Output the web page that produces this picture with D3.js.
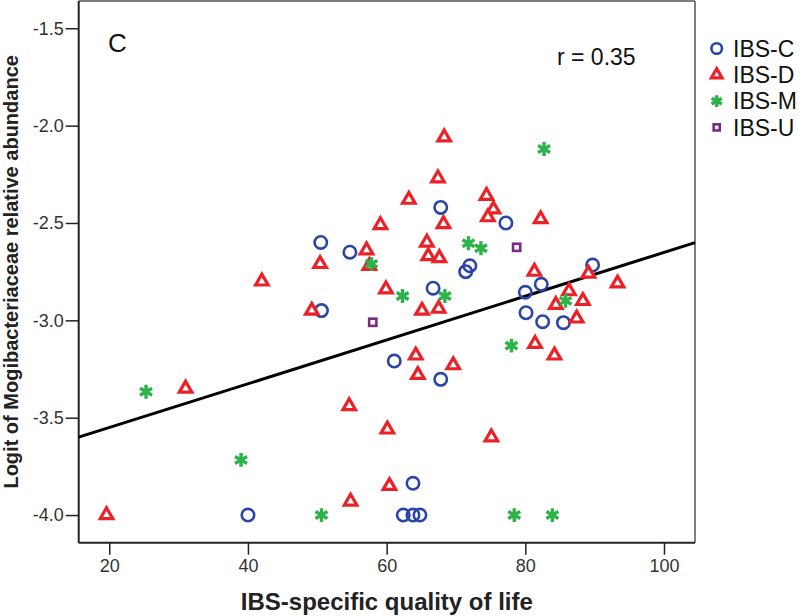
<!DOCTYPE html>
<html>
<head>
<meta charset="utf-8">
<script src="https://cdn.jsdelivr.net/npm/d3@7"></script>
<style>
  html, body { margin: 0; padding: 0; background: #fff; }
  svg { display: block; font-family: "Liberation Sans", Arial, sans-serif; }
</style>
</head>
<body>
<svg id="chart" width="800" height="616"></svg>
<script>
// ---- data ----
const ibsC = [
  [50.5, -2.60], [54.7, -2.65], [50.6, -2.95], [67.8, -2.42], [77.2, -2.50],
  [71.4, -2.75], [72.0, -2.72], [66.7, -2.835], [80.0, -2.856], [82.3, -2.815],
  [89.7, -2.716], [80.1, -2.961], [82.5, -3.007], [85.5, -3.012], [67.8, -3.303],
  [61.1, -3.209], [63.8, -3.837], [62.4, -4.0], [63.8, -4.0], [64.8, -4.0], [40.0, -4.0]
];
const ibsD = [
  [63.2, -2.38], [59.1, -2.51], [57.1, -2.64], [50.4, -2.71], [57.5, -2.72],
  [65.8, -2.60], [66.0, -2.67], [67.6, -2.68], [42.0, -2.80], [68.3, -2.06],
  [67.4, -2.27], [68.2, -2.505], [74.4, -2.36], [75.4, -2.43], [74.6, -2.47],
  [82.2, -2.48], [81.3, -2.75], [89.1, -2.76], [93.3, -2.81], [86.3, -2.85],
  [84.4, -2.92], [88.3, -2.90], [87.4, -2.99], [81.4, -3.12], [84.2, -3.18],
  [69.6, -3.23], [67.5, -2.94], [65.1, -2.95], [49.2, -2.95], [59.9, -2.84],
  [64.2, -3.18], [64.5, -3.28], [54.6, -3.44], [31.0, -3.35], [19.6, -4.0],
  [54.8, -3.93], [60.1, -3.56], [75.1, -3.60], [60.4, -3.85]
];
const ibsM = [
  [57.8, -2.71], [62.3, -2.875], [82.7, -2.12], [71.8, -2.604], [73.6, -2.63],
  [68.4, -2.875], [85.8, -2.90], [78.0, -3.13], [25.3, -3.367], [39.0, -3.717],
  [50.6, -4.0], [78.4, -4.0], [83.9, -4.0]
];
const ibsU = [[78.75, -2.625], [58.0, -3.01]];
const groups = ["IBS-C", "IBS-D", "IBS-M", "IBS-U"];
const xTicks = [20, 40, 60, 80, 100];
const yTicks = [-1.5, -2.0, -2.5, -3.0, -3.5, -4.0];
const fitX = [15.59, 104.47];
const fitY = [-3.60, -2.601];
const xDomain = [15.59, 104.47];
const yDomain = [-4.142, -1.36];

// ---- layout ----
const svg = d3.select("#chart");
const L = 78.7, R = 695, T = 1, B = 542.7;
const x = d3.scaleLinear().domain(xDomain).range([L, R]);
const y = d3.scaleLinear().domain(yDomain).range([B, T]);

const colors = { "IBS-C": "#2b45a6", "IBS-D": "#ec2027", "IBS-M": "#2db34a", "IBS-U": "#7a2a86" };

// frame (top/right)
svg.append("line").attr("x1", L).attr("x2", R).attr("y1", T).attr("y2", T)
  .attr("stroke", "#555").attr("stroke-width", 1.5);
svg.append("line").attr("x1", R).attr("x2", R).attr("y1", T).attr("y2", B)
  .attr("stroke", "#555").attr("stroke-width", 1.5);

// axes
const yAxis = d3.axisLeft(y).tickValues(yTicks).tickFormat(d3.format(".1f")).tickSize(13).tickPadding(2);
const xAxis = d3.axisBottom(x).tickValues(xTicks).tickFormat(d3.format("d")).tickSize(12).tickPadding(5);

const gy = svg.append("g").attr("transform", `translate(${L},0)`).call(yAxis);
const gx = svg.append("g").attr("transform", `translate(0,${B})`).call(xAxis);
[gx, gy].forEach(g => {
  g.select(".domain").attr("stroke", "#222").attr("stroke-width", 2);
  g.selectAll(".tick line").attr("stroke", "#222").attr("stroke-width", 1.5);
  g.selectAll(".tick text").attr("fill", "#333").attr("font-size", 18)
    .attr("font-family", "Liberation Sans, Arial, sans-serif");
});
gy.select(".domain").attr("d", `M0,${T}V${B}`);
gx.select(".domain").attr("d", `M${L},0H${R}`);
gy.selectAll(".tick text").text(d => d3.format(".1f")(d).replace("−", "-"));

// fit line
svg.append("line")
  .attr("x1", x(fitX[0])).attr("y1", y(fitY[0]))
  .attr("x2", x(fitX[1])).attr("y2", y(fitY[1]))
  .attr("stroke", "#000").attr("stroke-width", 3);

// marker drawing (k = scale factor)
function drawMarker(g, type, k) {
  if (type === "IBS-C") {
    g.append("circle").attr("r", 6.2 * k).attr("fill", "none")
      .attr("stroke", colors[type]).attr("stroke-width", 2.6);
  } else if (type === "IBS-D") {
    g.append("path").attr("d", d3.symbol(d3.symbolTriangle, 68 * k * k)())
      .attr("fill", "#fff").attr("stroke", colors[type]).attr("stroke-width", 3.2)
      .attr("stroke-linejoin", "miter");
  } else if (type === "IBS-M") {
    g.append("path").attr("d", d3.symbol(d3.symbolAsterisk, 135 * k * k)())
      .attr("fill", "none").attr("stroke", colors[type]).attr("stroke-width", 3.4);
  } else {
    const s = 7.2 * k;
    g.append("rect").attr("x", -s / 2).attr("y", -s / 2).attr("width", s).attr("height", s)
      .attr("fill", "#fff").attr("stroke", colors[type]).attr("stroke-width", 2.6);
  }
}

const series = [["IBS-C", ibsC], ["IBS-D", ibsD], ["IBS-M", ibsM], ["IBS-U", ibsU]];
series.forEach(([name, pts]) => {
  svg.append("g").selectAll("g").data(pts).join("g")
    .attr("transform", d => `translate(${x(d[0])},${y(d[1])})`)
    .each(function () { drawMarker(d3.select(this), name, 1); });
});

// panel letter and r
svg.append("text").attr("x", 108).attr("y", 52).attr("font-size", 26).attr("fill", "#111").text("C");
svg.append("text").attr("x", 557).attr("y", 65).attr("font-size", 23).attr("fill", "#111").text("r = 0.35");

// legend
const leg = svg.append("g");
groups.forEach((gname, i) => {
  const cy = 48.5 + i * 26.3;
  const m = leg.append("g").attr("transform", `translate(716.7,${cy})`);
  drawMarker(m, gname, 0.85);
  leg.append("text").attr("x", 733).attr("y", cy + 8.3).attr("font-size", 23).attr("fill", "#111").text(gname);
});

// axis titles
svg.append("text").attr("x", (L + R) / 2).attr("y", 610).attr("text-anchor", "middle")
  .attr("font-size", 24).attr("font-weight", "bold").attr("fill", "#222")
  .text("IBS-specific quality of life");
svg.append("text").attr("transform", `translate(18,${(T + B) / 2}) rotate(-90)`)
  .attr("text-anchor", "middle").attr("font-size", 20).attr("font-weight", "bold").attr("fill", "#222")
  .text("Logit of Mogibacteriaceae relative abundance");
</script>
</body>
</html>
